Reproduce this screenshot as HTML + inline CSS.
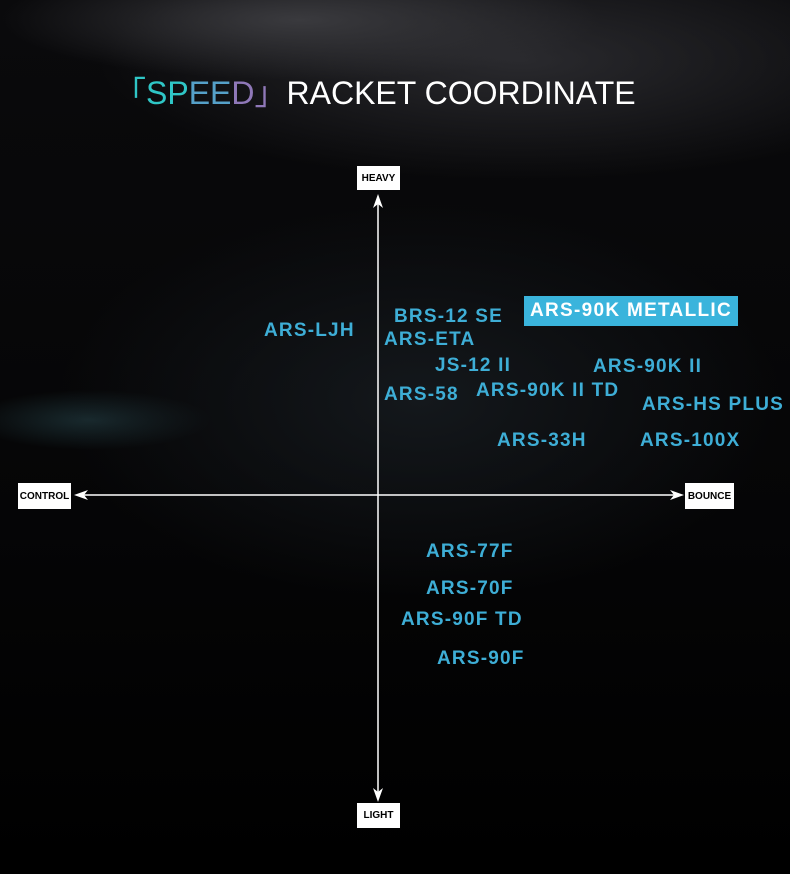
<!DOCTYPE html>
<html><head><meta charset="utf-8"><style>
body{margin:0;width:790px;height:874px;overflow:hidden;background:#000;position:relative;font-family:"Liberation Sans",sans-serif}
.bg{position:absolute;inset:0;background:
radial-gradient(ellipse 300px 60px at 300px 20px,#3a3a3e 0%,rgba(0,0,0,0) 100%),
radial-gradient(ellipse 420px 120px at 520px 60px,#2a2a2e 0%,rgba(0,0,0,0) 100%),
radial-gradient(ellipse 360px 200px at 420px 400px,#14181c 0%,rgba(0,0,0,0) 100%),
radial-gradient(ellipse 120px 30px at 90px 420px,rgba(60,110,120,.35) 0%,rgba(0,0,0,0) 100%),
linear-gradient(#0a0a0c,#050506 60%,#000)}
.t{position:absolute;color:#3eaed6;font-weight:bold;font-size:19px;white-space:nowrap;letter-spacing:1.2px}
.box{position:absolute;background:#fff;color:#000;font-weight:bold;font-size:10px;display:flex;align-items:center;justify-content:center}
</style></head><body>
<div class="bg"></div>
<div style="position:absolute;left:114px;top:68px;font-size:32px;color:#fff;white-space:nowrap;font-family:'Liberation Sans',sans-serif"><span style="color:#2fc6c6">「SP</span><span style="color:#55a0c8">EE</span><span style="color:#8f78b8">D」</span>RACKET COORDINATE</div>
<svg width="790" height="874" style="position:absolute;left:0;top:0">
<line x1="378" y1="200" x2="378" y2="798" stroke="#fff" stroke-width="1.5"/>
<line x1="80" y1="495" x2="680" y2="495" stroke="#fff" stroke-width="1.5"/>
<polygon points="378,194 373,208 378,204 383,208" fill="#fff"/>
<polygon points="378,802 373,788 378,792 383,788" fill="#fff"/>
<polygon points="74,495 88,490 84,495 88,500" fill="#fff"/>
<polygon points="684,495 670,490 674,495 670,500" fill="#fff"/>
</svg>
<div class="box" style="left:357px;top:166px;width:43px;height:24px">HEAVY</div>
<div class="box" style="left:357px;top:803px;width:43px;height:25px">LIGHT</div>
<div class="box" style="left:18px;top:483px;width:53px;height:26px">CONTROL</div>
<div class="box" style="left:685px;top:483px;width:49px;height:26px">BOUNCE</div>
<div style="position:absolute;left:524px;top:296px;width:214px;height:30px;background:#3ab4dc;color:#fff;font-weight:bold;font-size:19px;display:flex;align-items:center;justify-content:center;letter-spacing:1.3px">ARS-90K METALLIC</div>
<div class="t" style="left:264px;top:320px">ARS-LJH</div>
<div class="t" style="left:394px;top:306px">BRS-12 SE</div>
<div class="t" style="left:384px;top:329px">ARS-ETA</div>
<div class="t" style="left:435px;top:355px">JS-12 II</div>
<div class="t" style="left:593px;top:356px">ARS-90K II</div>
<div class="t" style="left:384px;top:384px">ARS-58</div>
<div class="t" style="left:476px;top:380px">ARS-90K II TD</div>
<div class="t" style="left:642px;top:394px">ARS-HS PLUS</div>
<div class="t" style="left:497px;top:430px">ARS-33H</div>
<div class="t" style="left:640px;top:430px">ARS-100X</div>
<div class="t" style="left:426px;top:541px">ARS-77F</div>
<div class="t" style="left:426px;top:578px">ARS-70F</div>
<div class="t" style="left:401px;top:609px">ARS-90F TD</div>
<div class="t" style="left:437px;top:648px">ARS-90F</div>
</body></html>
